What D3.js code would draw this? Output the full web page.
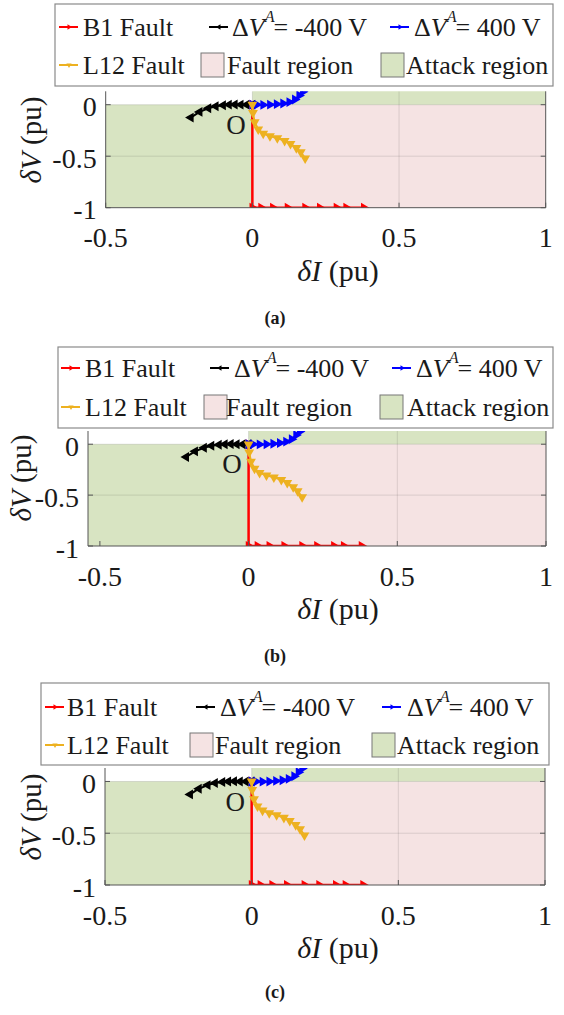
<!DOCTYPE html>
<html><head><meta charset="utf-8">
<script src="https://cdn.jsdelivr.net/npm/d3@7"></script>
<style>
body{margin:0;background:#fff}
svg{display:block}
text{font-family:"Liberation Serif","Times New Roman",serif;fill:#1a1a1a}
</style>
</head><body>
<svg id="chart" width="564" height="1015"></svg>
<script>
// ---------- DATA ----------
const xTicks = [-0.5, 0, 0.5, 1];
const xTickLabels = ["-0.5", "0", "0.5", "1"];
const yTicks = [0, -0.5, -1];
const yTickLabels = ["0", "-0.5", "-1"];
const gridX = [0, 0.5];
const gridY = [0, -0.5];

// B1 Fault (red)
const b1X = [0, 0, 0.03, 0.07, 0.12, 0.18, 0.23, 0.287, 0.32, 0.38];
const b1Y = [0, -1, -1, -1, -1, -1, -1, -1, -1, -1];
// dV^A = -400 V (black)
const negX = [0, -0.02, -0.04, -0.06, -0.08, -0.1, -0.125, -0.15, -0.18, -0.21];
const negY = [0, 0, 0, 0.002, 0, -0.005, -0.015, -0.035, -0.07, -0.125];
// dV^A = 400 V (blue)
const posX = [0, 0.015, 0.037, 0.06, 0.083, 0.105, 0.126, 0.145, 0.16, 0.172];
const posY = [0, 0, -0.002, 0, 0.005, 0.012, 0.025, 0.05, 0.09, 0.125];
// L12 Fault (yellow)
const l12X = [0, 0.002, 0.008, 0.02, 0.037, 0.06, 0.085, 0.11, 0.13, 0.15, 0.165, 0.18];
const l12Y = [0, -0.08, -0.17, -0.24, -0.28, -0.305, -0.325, -0.35, -0.38, -0.42, -0.46, -0.52];

// regions [x0, x1, y0, y1] (clipped to axes)
const faultRegion = [[0, 2, -2, 0]];
const attackRegion = [[-2, 0, -2, 0], [0, 2, 0, 2]];

const seriesNames = ["B1 Fault", "ΔV^A= -400 V", "ΔV^A= 400 V", "L12 Fault"];
const regionNames = ["Fault region", "Attack region"];
const panelNames = ["(a)", "(b)", "(c)"];
const originLabel = "O";

// ---------- STYLE / LAYOUT ----------
const colors = {red:"#ff0000", black:"#000000", blue:"#0000ff", yellow:"#edb120",
  pink:"#f5e3e3", green:"#d8e4c2", axis:"#555555", grid:"rgba(38,38,38,0.13)"};
const series = [
  {x:b1X, y:b1Y, color:colors.red, dir:90, width:2.5},
  {x:negX, y:negY, color:colors.black, dir:-90, width:2},
  {x:posX, y:posY, color:colors.blue, dir:90, width:2},
  {x:l12X, y:l12Y, color:colors.yellow, dir:180, width:2}
];

const panels = [
  {plot:{l:105.7, r:545.7, t:91.3, b:207.7}, xdom:[-0.5,1], ydom:[-1,0.13],
   leg:{x:55, y:4, w:498, h:82, r1:27, r2:65,
        c:[[4,28],[154,177],[335,359]], p:[[146,172],[326,351]]},
   ylab:{x:31, y:140}, xlab:{x:338}, cap:{x:275, dy:110}},
  {plot:{l:88, r:546, t:431, b:546}, xdom:[-0.54,1], ydom:[-1,0.13],
   leg:{x:58, y:347, w:495, h:81, r1:368, r2:407,
        c:[[3,27],[152,176],[334,358]], p:[[146,168],[322,349]]},
   ylab:{x:21, y:478}, xlab:{x:338}, cap:{x:275, dy:110}},
  {plot:{l:105, r:545, t:768, b:885}, xdom:[-0.5,1], ydom:[-1,0.13],
   leg:{x:41, y:683, w:508, h:82, r1:707, r2:745,
        c:[[4,26],[155,179],[341,366]], p:[[149,174],[331,356]]},
   ylab:{x:31, y:817}, xlab:{x:338}, cap:{x:275, dy:107}}
];

const svg = d3.select("#chart");

function mathLabel(sel, sign) {
  sel.append("tspan").text("Δ");
  sel.append("tspan").attr("font-style","italic").text("V");
  sel.append("tspan").attr("font-style","italic").attr("font-size","62%").attr("dy",-11).text("A");
  sel.append("tspan").attr("dy",11).attr("dx",-1).text(sign);
}

panels.forEach((P, pi) => {
  const g = svg.append("g");
  const x = d3.scaleLinear().domain(P.xdom).range([P.plot.l, P.plot.r]);
  const y = d3.scaleLinear().domain(P.ydom).range([P.plot.b, P.plot.t]);
  const clipId = "clip" + pi;
  g.append("clipPath").attr("id", clipId).append("rect")
    .attr("x", P.plot.l).attr("y", P.plot.t)
    .attr("width", P.plot.r - P.plot.l).attr("height", P.plot.b - P.plot.t);
  const pg = g.append("g").attr("clip-path", `url(#${clipId})`);
  const rect = (r, fill) => pg.append("rect")
    .attr("x", x(Math.max(r[0], P.xdom[0]-1))).attr("y", y(Math.min(r[3], P.ydom[1]+1)))
    .attr("width", x(Math.min(r[1], P.xdom[1]+1)) - x(Math.max(r[0], P.xdom[0]-1)))
    .attr("height", y(Math.max(r[2], P.ydom[0]-1)) - y(Math.min(r[3], P.ydom[1]+1)))
    .attr("fill", fill);
  faultRegion.forEach(r => rect(r, colors.pink));
  attackRegion.forEach(r => rect(r, colors.green));
  // grid
  gridX.forEach(v => pg.append("line").attr("x1", x(v)).attr("x2", x(v))
    .attr("y1", P.plot.t).attr("y2", P.plot.b).attr("stroke", colors.grid).attr("stroke-width", 1));
  gridY.forEach(v => pg.append("line").attr("y1", y(v)).attr("y2", y(v))
    .attr("x1", P.plot.l).attr("x2", P.plot.r).attr("stroke", colors.grid).attr("stroke-width", 1));
  // series
  const line = d3.line().x(d => x(d[0])).y(d => y(d[1]));
  const tri = d3.symbol().type(d3.symbolTriangle).size(42);
  series.forEach(s => {
    const pts = s.x.map((v, i) => [v, s.y[i]]);
    pg.append("path").attr("d", line(pts)).attr("fill", "none")
      .attr("stroke", s.color).attr("stroke-width", s.width).attr("stroke-linejoin","round");
    pg.selectAll(null).data(pts).enter().append("path").attr("d", tri)
      .attr("transform", d => `translate(${x(d[0])},${y(d[1])}) rotate(${s.dir})`)
      .attr("fill", s.color);
  });
  // axes lines (left, bottom, right)
  g.append("path").attr("d", `M${P.plot.l},${P.plot.t}V${P.plot.b}H${P.plot.r}V${P.plot.t}`)
    .attr("fill","none").attr("stroke", colors.axis).attr("stroke-width", 1);
  // ticks inward
  yTicks.forEach(v => {
    g.append("line").attr("x1", P.plot.l).attr("x2", P.plot.l+5).attr("y1", y(v)).attr("y2", y(v)).attr("stroke", colors.axis);
    g.append("line").attr("x1", P.plot.r).attr("x2", P.plot.r-5).attr("y1", y(v)).attr("y2", y(v)).attr("stroke", colors.axis);
  });
  xTicks.forEach(v => {
    g.append("line").attr("x1", x(v)).attr("x2", x(v)).attr("y1", P.plot.b).attr("y2", P.plot.b-5).attr("stroke", colors.axis);
  });
  // tick labels
  yTicks.forEach((v, i) => g.append("text").attr("x", P.plot.l - 9).attr("y", y(v) + 2)
    .attr("text-anchor","end").attr("dominant-baseline","central").attr("font-size", 28).text(yTickLabels[i]));
  xTicks.forEach((v, i) => g.append("text").attr("x", x(v)).attr("y", P.plot.b + 30)
    .attr("text-anchor","middle").attr("dominant-baseline","central").attr("font-size", 28).text(xTickLabels[i]));
  // axis labels
  const xl = g.append("text").attr("x", P.xlab.x).attr("y", P.plot.b + 62)
    .attr("text-anchor","middle").attr("dominant-baseline","central").attr("font-size", 30);
  xl.append("tspan").attr("font-style","italic").text("δI");
  xl.append("tspan").text(" (pu)");
  const yl = g.append("text").attr("transform", `translate(${P.ylab.x},${P.ylab.y}) rotate(-90)`)
    .attr("text-anchor","middle").attr("dominant-baseline","central").attr("font-size", 29);
  yl.append("tspan").attr("font-style","italic").text("δV");
  yl.append("tspan").text(" (pu)");
  // origin label
  g.append("text").attr("x", x(-0.056)).attr("y", y(-0.195)).attr("text-anchor","middle")
    .attr("dominant-baseline","central").attr("font-size", 27).text(originLabel);
  // caption
  g.append("text").attr("x", P.cap.x).attr("y", P.plot.b + P.cap.dy).attr("text-anchor","middle")
    .attr("dominant-baseline","central").attr("font-size", 18).attr("font-weight","bold").text(panelNames[pi]);

  // legend
  const L = P.leg;
  g.append("rect").attr("x", L.x).attr("y", L.y).attr("width", L.w).attr("height", L.h)
    .attr("fill", "#fff").attr("stroke", "#8a8a8a").attr("stroke-width", 1.2);
  const legItems = [
    {s:0, row:L.r1, col:L.c[0]}, {s:1, row:L.r1, col:L.c[1]},
    {s:2, row:L.r1, col:L.c[2]}, {s:3, row:L.r2, col:L.c[0]}
  ];
  const smallTri = d3.symbol().type(d3.symbolTriangle).size(12);
  legItems.forEach(it => {
    const s = series[it.s];
    const x0 = L.x + it.col[0];
    g.append("line").attr("x1", x0).attr("x2", x0 + 19).attr("y1", it.row).attr("y2", it.row)
      .attr("stroke", s.color).attr("stroke-width", 2);
    g.append("path").attr("d", smallTri).attr("transform", `translate(${x0+10},${it.row}) rotate(${s.dir})`).attr("fill", s.color);
    const t = g.append("text").attr("x", L.x + it.col[1]).attr("y", it.row)
      .attr("dominant-baseline","central").attr("font-size", 26);
    if (it.s === 1) mathLabel(t, "= -400 V");
    else if (it.s === 2) mathLabel(t, "= 400 V");
    else t.text(seriesNames[it.s]);
  });
  const regs = [{c:colors.pink, pos:L.p[0], n:regionNames[0]}, {c:colors.green, pos:L.p[1], n:regionNames[1]}];
  regs.forEach(r => {
    g.append("rect").attr("x", L.x + r.pos[0]).attr("y", L.r2 - 12).attr("width", 23).attr("height", 24)
      .attr("fill", r.c).attr("stroke", "#777").attr("stroke-width", 1);
    g.append("text").attr("x", L.x + r.pos[1]).attr("y", L.r2).attr("dominant-baseline","central")
      .attr("font-size", 26).text(r.n);
  });
});
</script>
</body></html>
